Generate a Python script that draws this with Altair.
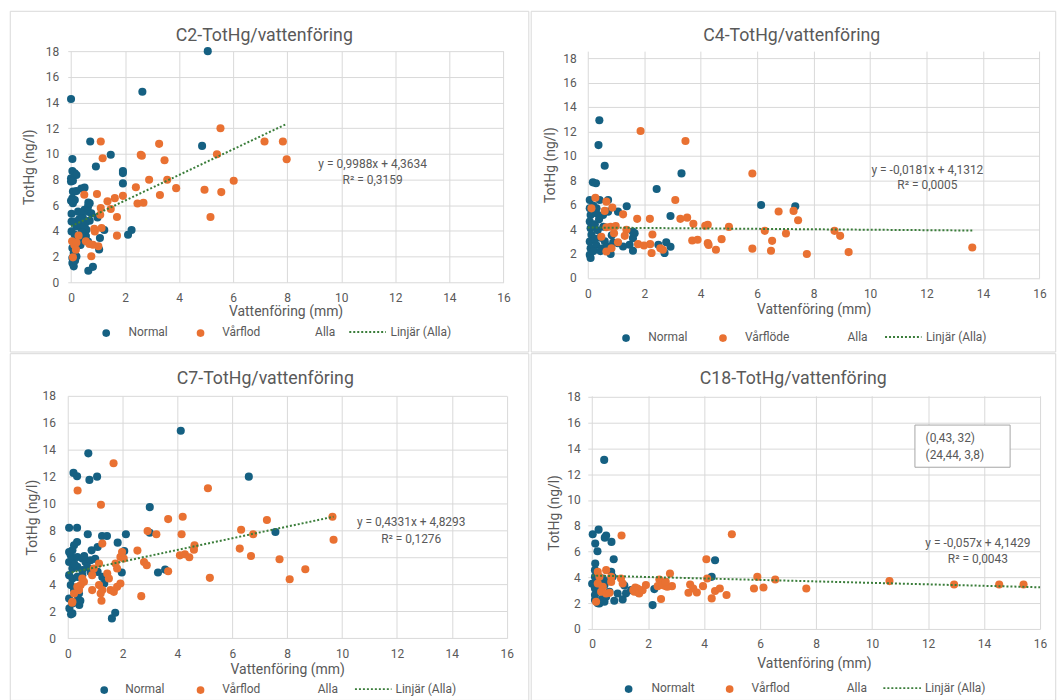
import altair as alt
import pandas as pd

# ---------------------------------------------------------------------------
# Measurements: (vattenföring mm, TotHg ng/l) per station and period
# ---------------------------------------------------------------------------
c2_normal = [
    (5.06, 18.0), (2.64, 14.84), (0.0, 14.27), (0.71, 10.96), (4.85, 10.62), (1.47, 9.93),
    (0.05, 9.6), (0.92, 9.02), (1.92, 8.66), (1.92, 8.5), (0.05, 8.67), (0.14, 8.48),
    (0.2, 8.35), (0.0, 8.1), (0.07, 7.9), (0.0, 7.85), (1.92, 7.7), (0.07, 7.06), (0.2, 7.1),
    (0.38, 7.3), (0.5, 7.37), (0.05, 6.54), (0.14, 6.4), (0.07, 6.15), (0.69, 6.15),
    (0.63, 5.9), (0.5, 5.64), (0.63, 5.5), (0.75, 5.38), (0.02, 5.34), (0.26, 5.5),
    (0.38, 5.38), (0.02, 4.73), (0.14, 4.73), (0.3, 4.9), (0.44, 5.0), (0.57, 4.73),
    (0.69, 4.8), (0.2, 4.34), (0.38, 4.21), (0.57, 4.09), (0.02, 3.96), (0.14, 3.7),
    (0.26, 3.44), (0.44, 3.31), (0.63, 3.18), (0.05, 2.66), (0.1, 2.27), (0.05, 1.89),
    (0.05, 1.5), (0.1, 1.24), (0.64, 0.9), (0.81, 1.2), (2.24, 4.07), (2.11, 3.7),
    (1.07, 3.45), (1.04, 2.55), (0.98, 5.05), (1.23, 4.07), (0.64, 6.2), (0.0, 6.35),
    (0.3, 4.5), (0.5, 4.4), (0.4, 3.9), (0.55, 3.6), (0.35, 2.9), (0.2, 2.0), (0.15, 1.7),
]
c2_spring = [
    (5.53, 12.0), (1.1, 10.96), (3.26, 10.78), (7.16, 10.96), (7.84, 10.96), (1.17, 9.66),
    (2.58, 9.92), (2.62, 9.85), (3.46, 9.5), (5.4, 9.97), (7.98, 9.58), (2.89, 7.98),
    (3.56, 7.98), (6.02, 7.9), (2.4, 7.4), (3.89, 7.33), (4.94, 7.2), (5.56, 7.02),
    (3.29, 6.79), (0.49, 6.81), (0.96, 6.87), (1.92, 6.73), (1.62, 6.55), (1.35, 6.3),
    (2.46, 6.14), (2.68, 6.19), (1.1, 5.78), (1.47, 5.7), (1.08, 5.26), (1.7, 5.08),
    (5.16, 5.08), (0.86, 4.17), (0.88, 3.96), (1.13, 4.22), (1.7, 3.63), (0.28, 3.63),
    (0.55, 3.19), (0.68, 2.98), (1.01, 2.8), (0.04, 3.19), (0.12, 2.93), (0.18, 2.54),
    (0.07, 1.94), (0.75, 2.02), (0.2, 3.1), (0.81, 2.92),
]

c4_normal = [
    (0.41, 12.91), (0.38, 10.88), (0.6, 9.19), (0.18, 7.83), (0.29, 7.75), (3.32, 8.56),
    (2.44, 7.29), (6.14, 5.98), (7.35, 5.87), (1.38, 5.87), (2.93, 5.08), (0.07, 6.38),
    (0.07, 5.7), (0.1, 5.16), (0.07, 4.62), (0.1, 4.07), (0.13, 3.53), (0.07, 2.99),
    (0.1, 2.44), (0.07, 1.9), (0.1, 1.63), (0.31, 5.7), (0.42, 6.38), (0.72, 6.38),
    (0.54, 5.16), (0.72, 5.43), (1.07, 5.43), (1.07, 2.85), (1.25, 2.58), (1.48, 2.72),
    (1.6, 3.26), (1.66, 3.66), (1.59, 3.81), (1.6, 2.23), (2.5, 2.72), (2.78, 2.93),
    (2.93, 2.56), (2.72, 2.04), (0.81, 1.96), (0.25, 4.4), (0.35, 3.9), (0.45, 3.3),
    (0.3, 2.7), (0.5, 2.4), (0.2, 2.2), (0.6, 3.0), (0.4, 4.8), (0.55, 4.2), (0.25, 3.2),
    (0.15, 4.3), (0.7, 2.6), (0.9, 2.9), (0.45, 2.2), (0.3, 5.3), (0.2, 5.9), (0.85, 3.5),
]
c4_spring = [
    (1.87, 12.03), (3.46, 11.21), (5.83, 8.55), (0.27, 6.57), (0.13, 5.7), (0.66, 6.25),
    (0.6, 5.49), (0.87, 5.76), (1.25, 5.21), (0.48, 3.37), (0.66, 4.15), (0.81, 4.2),
    (0.99, 4.25), (0.93, 3.66), (1.37, 3.94), (1.31, 3.45), (1.75, 4.84), (2.2, 4.84),
    (2.29, 3.56), (1.78, 2.77), (1.99, 2.66), (2.21, 2.77), (2.26, 2.04), (0.66, 2.17),
    (0.84, 2.44), (1.07, 2.93), (2.57, 2.44), (2.66, 2.31), (3.1, 6.38), (3.28, 4.84),
    (3.52, 4.94), (3.74, 4.43), (3.7, 3.07), (3.89, 3.13), (4.16, 4.27), (4.25, 4.35),
    (4.25, 2.85), (4.28, 2.71), (4.54, 2.31), (5.0, 4.18), (4.74, 3.18), (5.83, 2.4),
    (6.76, 5.44), (6.27, 3.86), (6.53, 3.04), (6.49, 2.23), (7.02, 3.64), (7.29, 5.49),
    (7.45, 4.73), (7.76, 1.96), (8.74, 3.86), (8.94, 3.45), (9.24, 2.12), (13.62, 2.5),
]

c7_normal = [
    (4.12, 15.41), (0.75, 13.73), (0.21, 12.28), (0.34, 12.03), (1.07, 12.0), (0.79, 11.76),
    (6.6, 12.0), (2.99, 9.74), (0.05, 8.21), (0.34, 8.21), (0.73, 7.72), (1.25, 7.59),
    (1.43, 7.59), (2.12, 7.72), (1.82, 7.1), (2.99, 7.84), (7.57, 7.89), (1.09, 6.78),
    (0.87, 6.53), (2.06, 6.48), (3.29, 4.88), (3.55, 5.1), (1.97, 4.88), (1.61, 1.48),
    (1.73, 1.9), (0.12, 1.78), (0.06, 2.22), (0.42, 2.47), (0.46, 2.79), (1.33, 4.07),
    (1.09, 4.93), (0.34, 7.15), (0.23, 6.9), (0.17, 6.54), (0.11, 6.17), (0.05, 5.67),
    (0.17, 5.8), (0.35, 6.04), (0.53, 5.92), (0.65, 5.67), (0.83, 5.8), (0.17, 5.18),
    (0.35, 5.3), (0.53, 5.06), (0.71, 5.3), (0.83, 4.93), (0.05, 4.69), (0.17, 4.44),
    (0.35, 4.56), (0.53, 4.69), (0.11, 3.95), (0.23, 3.58), (0.41, 3.33), (0.05, 2.96),
    (0.17, 2.59), (0.35, 2.84), (0.17, 1.85), (1.26, 4.56), (0.05, 6.4), (0.25, 5.5),
    (0.6, 6.1), (1.0, 5.9),
]
c7_spring = [
    (1.67, 12.99), (0.36, 10.97), (1.21, 9.91), (5.11, 11.14), (3.66, 8.85), (4.19, 9.02),
    (7.26, 8.78), (9.65, 9.02), (2.91, 7.96), (3.23, 7.72), (4.15, 7.72), (6.32, 8.06),
    (6.76, 7.72), (4.62, 6.9), (4.6, 6.58), (9.69, 7.32), (2.54, 6.51), (6.27, 6.66),
    (4.09, 6.16), (4.27, 6.24), (4.43, 6.02), (6.68, 6.11), (7.72, 5.87), (8.66, 5.13),
    (3.66, 4.98), (5.18, 4.49), (8.09, 4.39), (2.68, 3.13), (2.78, 5.67), (2.88, 5.42),
    (1.23, 2.79), (0.16, 2.64), (1.26, 7.03), (1.98, 6.41), (1.92, 6.04), (2.04, 5.92),
    (1.74, 5.55), (1.8, 5.18), (1.14, 5.55), (0.95, 5.18), (0.89, 4.69), (1.44, 4.81),
    (1.5, 4.44), (0.53, 4.44), (0.59, 4.19), (0.47, 3.95), (0.35, 3.82), (0.41, 3.58),
    (0.23, 3.33), (0.17, 2.71), (1.14, 3.95), (1.26, 3.58), (1.2, 3.33), (1.56, 3.58),
    (1.68, 3.45), (1.8, 3.82), (1.92, 4.07), (0.89, 3.58),
]

c18_normal = [
    (0.43, 13.11), (0.02, 7.34), (0.23, 7.7), (0.5, 7.24), (0.45, 7.08), (0.69, 6.75),
    (0.11, 6.62), (0.19, 6.03), (0.77, 5.41), (0.11, 5.07), (4.39, 5.33), (4.27, 4.04),
    (2.16, 1.85), (2.22, 3.09), (1.09, 2.29), (1.21, 2.76), (1.15, 3.37), (1.39, 3.01),
    (1.66, 2.81), (0.79, 2.19), (0.1, 4.56), (0.1, 4.04), (0.1, 3.52), (0.1, 3.14),
    (0.1, 2.63), (0.1, 2.24), (0.38, 3.91), (0.44, 3.4), (0.32, 2.88), (0.5, 2.5),
    (0.26, 1.98), (0.44, 2.11), (0.68, 4.43), (0.73, 4.04), (0.62, 2.88), (0.91, 2.75),
    (0.0, 3.5), (0.2, 2.0), (0.35, 2.3), (0.55, 3.7), (0.15, 3.8),
]
c18_spring = [
    (1.05, 7.25), (4.99, 7.34), (4.08, 5.41), (2.78, 4.3), (2.4, 3.84), (2.34, 3.32),
    (2.63, 3.32), (2.85, 3.32), (3.5, 3.45), (3.61, 3.14), (3.44, 2.81), (3.74, 2.83),
    (3.96, 3.32), (4.11, 3.91), (4.39, 2.94), (4.56, 3.14), (4.27, 2.37), (4.8, 2.63),
    (5.9, 4.04), (5.78, 3.14), (6.12, 3.22), (6.54, 3.84), (7.65, 3.14), (10.62, 3.71),
    (12.93, 3.45), (14.54, 3.45), (15.41, 3.45), (1.47, 3.01), (1.54, 3.22), (0.2, 4.43),
    (0.26, 4.04), (0.5, 4.56), (0.68, 4.04), (0.2, 3.52), (0.38, 3.27), (0.68, 3.65),
    (1.03, 3.91), (1.09, 3.52), (0.32, 2.88), (0.5, 2.75), (0.62, 2.8), (0.14, 2.11),
    (1.51, 2.88), (1.62, 3.14), (1.68, 2.75), (1.8, 3.01), (1.92, 3.4), (2.46, 2.32),
    (2.51, 3.4), (2.69, 3.27), (2.63, 3.65),
]

# Linear trend lines for "Alla": (slope, intercept, last x, R²)
c2_trend = (0.9988, 4.3634, 7.98, 0.3159)
c4_trend = (-0.0181, 4.1312, 13.62, 0.0005)
c7_trend = (0.4331, 4.8293, 9.69, 0.1276)
c18_trend = (-0.057, 4.1429, 16.0, 0.0043)
c2_eq = "y = 0,9988x + 4,3634"
c4_eq = "y = -0,0181x + 4,1312"
c7_eq = "y = 0,4331x + 4,8293"
c18_eq = "y = -0,057x + 4,1429"

x_ticks = list(range(0, 17, 2))
y_ticks = list(range(0, 19, 2))

BLUE = "#156082"
ORANGE = "#E97132"
GREEN = "#3A7D3A"
GRID = "#D9D9D9"
TEXT = "#595959"
FONT = "Roboto"


def fmt(v, digits):
    return f"{v:.{digits}f}".replace(".", ",")


def one_row():
    return alt.Data(values=[{"k": 0}])


def panel(title, normal, spring, labels, trend, eq, eq_xy, geo, note=None):
    w, h = geo["w"], geo["h"]
    xs = alt.Scale(domain=[geo["x0"], 16], nice=False, zero=False)
    ys = alt.Scale(domain=[0, geo["y1"]], nice=False)
    xaxis = alt.Axis(values=x_ticks, title="Vattenföring (mm)", grid=True, gridColor=GRID,
                     domain=False, ticks=False, labelPadding=geo["xlp"],
                     titlePadding=geo["xtp"], labelColor=TEXT, titleColor=TEXT,
                     labelFontSize=12, titleFontSize=14, titleFontWeight="normal",
                     labelFont=FONT, titleFont=FONT, labelFlush=False)
    yaxis = alt.Axis(values=y_ticks, title="TotHg (ng/l)", grid=True, gridColor=GRID,
                     domain=False, ticks=False, labelPadding=geo["ylp"],
                     titlePadding=geo["ytp"], labelColor=TEXT, titleColor=TEXT,
                     labelFontSize=12, titleFontSize=14, titleFontWeight="normal",
                     labelFont=FONT, titleFont=FONT)

    rows = [{"x": x, "y": y, "serie": "Normal"} for x, y in normal]
    rows += [{"x": x, "y": y, "serie": "Vår"} for x, y in spring]
    pts_df = pd.DataFrame(rows)

    X = alt.X("x:Q", scale=xs, axis=xaxis)
    Y = alt.Y("y:Q", scale=ys, axis=yaxis)

    bx0, bx1, by0, by1 = geo["border"]
    frame = alt.Chart(one_row()).mark_rect(fill="white", fillOpacity=0, stroke="#D9D9D9",
                                           strokeWidth=1).encode(
        x=alt.value(bx0), x2=alt.value(bx1), y=alt.value(by0), y2=alt.value(by1))

    points = alt.Chart(pts_df).mark_circle(size=66, opacity=1).encode(
        x=X, y=Y,
        color=alt.Color("serie:N", scale=alt.Scale(domain=["Normal", "Vår"], range=[BLUE, ORANGE]),
                        legend=None))

    slope, intercept, x_end, r2 = trend
    trend_df = pd.DataFrame({"x": [0.0, x_end], "y": [intercept, intercept + slope * x_end]})
    trend_line = alt.Chart(trend_df).mark_line(color=GREEN, strokeWidth=2, strokeDash=[2, 2]).encode(x=X, y=Y)

    ex, ey = eq_xy
    eq_df = pd.DataFrame({"x": [ex, ex], "y": [ey, ey - 1.25],
                          "t": [eq, f"R² = {fmt(r2, 4)}"]})
    eq_text = alt.Chart(eq_df).mark_text(font=FONT, fontSize=12, color=TEXT, align="center",
                                         baseline="middle").encode(x=X, y=Y, text="t:N")

    layers = [frame, points, trend_line, eq_text]

    if note is not None:
        box = pd.DataFrame({"x": [note["x0"]], "x2": [note["x1"]], "y": [note["y0"]], "y2": [note["y1"]]})
        layers.append(alt.Chart(box).mark_rect(fill="white", stroke="#A6A6A6", strokeWidth=1).encode(
            x=X, x2="x2:Q", y=Y, y2="y2:Q"))
        lines = pd.DataFrame({"x": [note["tx"]] * len(note["lines"]), "y": note["ty"], "t": note["lines"]})
        layers.append(alt.Chart(lines).mark_text(font=FONT, fontSize=12, color=TEXT, align="left",
                                                 baseline="middle").encode(x=X, y=Y, text="t:N"))

    # chart title
    tx, ty = geo["title"]
    layers.append(alt.Chart(one_row()).mark_text(font=FONT, fontSize=17.8, color=TEXT, align="center",
                                                 baseline="middle").encode(
        x=alt.value(tx), y=alt.value(ty), text=alt.value(title)))

    # legend row under the x axis
    lg = geo["legend"]
    ly = h + lg["y"]
    layers.append(alt.Chart(one_row()).mark_circle(size=60, opacity=1, color=BLUE).encode(
        x=alt.value(lg["d1"]), y=alt.value(ly + 1)))
    layers.append(alt.Chart(one_row()).mark_circle(size=60, opacity=1, color=ORANGE).encode(
        x=alt.value(lg["d2"]), y=alt.value(ly + 1)))
    for key, txt in (("t1", labels[0]), ("t2", labels[1]), ("alla", "Alla"), ("lt", "Linjär (Alla)")):
        layers.append(alt.Chart(one_row()).mark_text(font=FONT, fontSize=12, color=TEXT, align="left",
                                                     baseline="middle").encode(
            x=alt.value(lg[key]), y=alt.value(ly), text=alt.value(txt)))
    layers.append(alt.Chart(one_row()).mark_rule(color=GREEN, strokeWidth=2, strokeDash=[2, 2]).encode(
        x=alt.value(lg["l0"]), x2=alt.value(lg["l1"]), y=alt.value(ly)))

    return alt.layer(*layers).properties(width=w, height=h)


# Panel geometry; every panel in a column shares its left edge, every panel in a row its top edge.
geo_c2 = dict(w=437.3, h=232, x0=-0.1217, y1=18, border=(-57.7, 462.8, -40, 302), title=(197.3, -14.7),
              xlp=10, xtp=1.5, ylp=9, ytp=9,
              legend=dict(y=50, d1=38.6, t1=61, d2=133.3, t2=155, alla=248.3, l0=282.6, l1=319.3, lt=324))
geo_c4 = dict(w=453.4, h=227.7, x0=0, y1=18.571, border=(-56.8, 469.7, -40, 302), title=(204.7, -14.7),
              xlp=11, xtp=2.5, ylp=11.6, ytp=5.5,
              legend=dict(y=59.3, d1=38.4, t1=60.7, d2=135.7, t2=157.7, alla=260.7, l0=298.4, l1=335, lt=339.4))
geo_c7 = dict(w=440.6, h=243.4, x0=0, y1=18, border=(-57.7, 462.8, -42.3, 305.7), title=(198.3, -17.3),
              xlp=10, xtp=3.5, ylp=12.4, ytp=2,
              legend=dict(y=51, d1=36.6, t1=57.6, d2=133.3, t2=155, alla=251, l0=288.3, l1=325, lt=329))
geo_c18 = dict(w=454, h=234, x0=-0.1566, y1=18.077, border=(-56.8, 469.7, -42.3, 305.7), title=(206.2, -17.3),
               xlp=10, xtp=7, ylp=7.6, ytp=5,
               legend=dict(y=59.4, d1=41, t1=64, d2=142.4, t2=164.4, alla=260, l0=296.7, l1=334.4, lt=338.4))

c18_note = dict(x0=11.53, x1=14.93, y0=15.81, y1=12.54, tx=11.91, ty=[14.8, 13.52],
                lines=["(0,43, 32)", "(24,44, 3,8)"])

p_c2 = panel("C2-TotHg/vattenföring", c2_normal, c2_spring, ("Normal", "Vårflod"), c2_trend, c2_eq,
             (11.16, 9.23), geo_c2)
p_c4 = panel("C4-TotHg/vattenföring", c4_normal, c4_spring, ("Normal", "Vårflöde"), c4_trend, c4_eq,
             (12.03, 8.83), geo_c4)
p_c7 = panel("C7-TotHg/vattenföring", c7_normal, c7_spring, ("Normal", "Vårflod"), c7_trend, c7_eq,
             (12.52, 8.63), geo_c7)
p_c18 = panel("C18-TotHg/vattenföring", c18_normal, c18_spring, ("Normalt", "Vårflod"), c18_trend, c18_eq,
              (13.78, 6.69), geo_c18, note=c18_note)

chart = alt.vconcat(
    alt.hconcat(p_c2, p_c4, spacing=0),
    alt.hconcat(p_c7, p_c18, spacing=0),
    spacing=0,
).properties(
    padding={"left": 9, "top": 9, "right": 0, "bottom": 0},
    background="white",
).configure(font=FONT).configure_view(stroke=None)

chart.save("out.html", embed_options={"renderer": "svg", "actions": False})
